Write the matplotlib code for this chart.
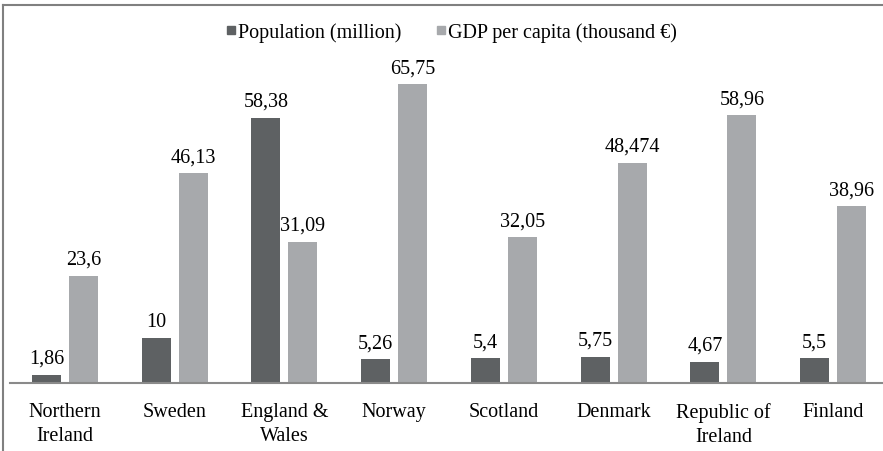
import numpy as np
import matplotlib.pyplot as plt
from matplotlib.lines import Line2D

plt.rcParams['font.family'] = ['Liberation Serif', 'DejaVu Serif']

countries = ['Northern\nIreland', 'Sweden', 'England &\nWales', 'Norway',
             'Scotland', 'Denmark', 'Republic of\nIreland', 'Finland']
population = [1.86, 10, 58.38, 5.26, 5.4, 5.75, 4.67, 5.5]
gdp = [23.6, 46.13, 31.09, 65.75, 32.05, 48.474, 58.96, 38.96]
pop_labels = ['1,86', '10', '58,38', '5,26', '5,4', '5,75', '4,67', '5,5']
gdp_labels = ['23,6', '46,13', '31,09', '65,75', '32,05', '48,474', '58,96', '38,96']

dark = '#5e6163'
light = '#a7a9ac'
fs = 14.5

W, H = 883, 452
fig = plt.figure(figsize=(W / 100, H / 100), dpi=100)

# axes placed in pixel terms: baseline at y=384, categories 10..888 px
left, right, base, top = 10, 888, 384, 66
ax = fig.add_axes([left / W, (H - base) / H, (right - left) / W, (base - top) / H])

x = np.arange(len(countries))
w = 0.265
b1 = ax.bar(x - 0.168, population, w, color=dark)
b2 = ax.bar(x + 0.168, gdp, w, color=light)
ax.bar_label(b1, labels=pop_labels, padding=5, fontsize=fs)
ax.bar_label(b2, labels=gdp_labels, padding=5, fontsize=fs)

ax.set_xlim(-0.5, len(countries) - 0.5)
ax.set_ylim(0, 70)
ax.set_xticks(x)
ax.set_xticklabels(countries, fontsize=fs, linespacing=1.3)
ax.tick_params(axis='x', length=0, pad=14)
ax.set_yticks([])
for s in ['top', 'right', 'left']:
    ax.spines[s].set_visible(False)
ax.spines['bottom'].set_color('#8a8a8a')
ax.spines['bottom'].set_linewidth(1.5)

handles = [Line2D([], [], marker='s', color=dark, linestyle='none', markersize=6),
           Line2D([], [], marker='s', color=light, linestyle='none', markersize=6)]
fig.legend(handles, ['Population (million)', 'GDP per capita (thousand €)'],
           loc='center', bbox_to_anchor=(451 / W, 1 - 33 / H), ncol=2,
           frameon=False, fontsize=fs, handletextpad=0.05, columnspacing=1.7,
           handlelength=0.6)

# outer frame
fig.add_artist(Line2D([3 / W, 1.01], [1 - 6 / H, 1 - 6 / H], color='#808080', lw=1.5))
fig.add_artist(Line2D([3 / W, 3 / W], [-0.01, 1 - 6 / H], color='#808080', lw=1.5))

fig.savefig('out.png', dpi=100)
